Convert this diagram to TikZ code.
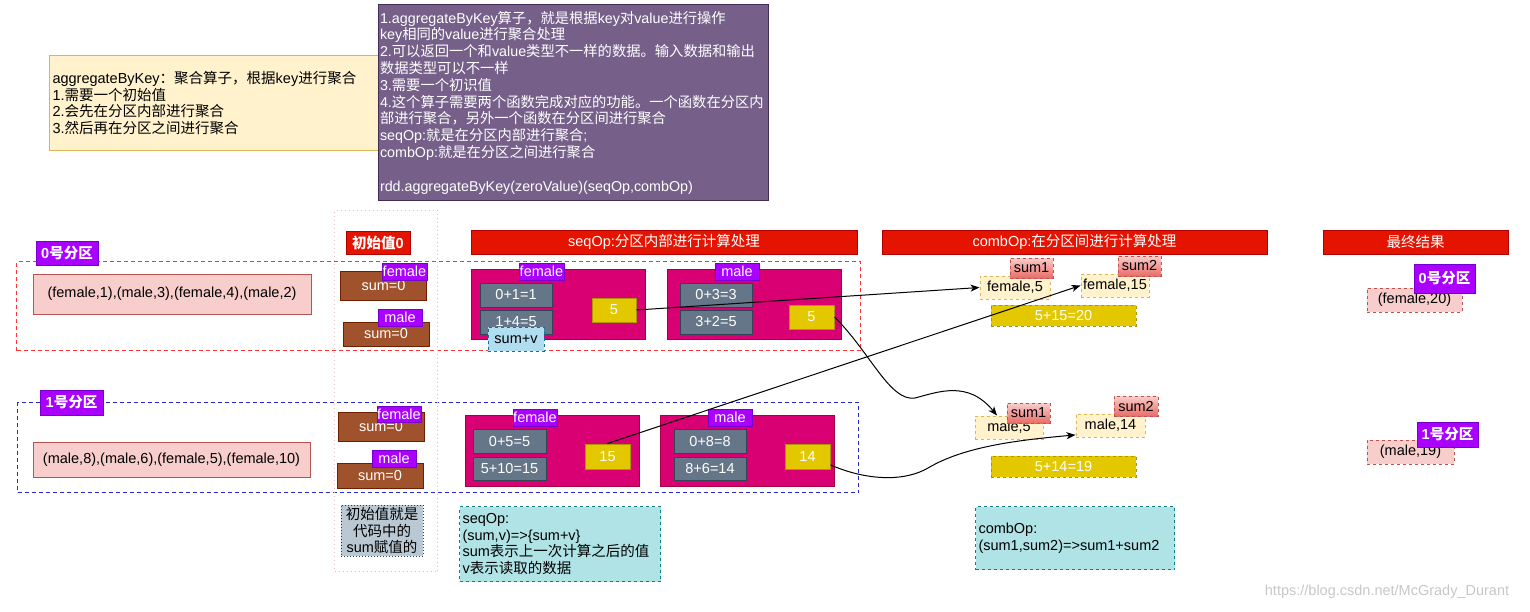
\documentclass[tikz,border=0pt]{standalone}
\usepackage{fontspec}
\setmainfont{Liberation Sans}
\newfontfamily\cjkfont{Noto Sans CJK SC}
% CJK runs switch to the CJK font automatically
\XeTeXinterchartokenstate=1
\newXeTeXintercharclass\cjkclass
\makeatletter
\count@="3000
\loop\ifnum\count@<"3040 \XeTeXcharclass\count@=\cjkclass \advance\count@ by 1 \repeat
\count@="4E00
\loop\ifnum\count@<"A000 \XeTeXcharclass\count@=\cjkclass \advance\count@ by 1 \repeat
\count@="FF00
\loop\ifnum\count@<"FFF0 \XeTeXcharclass\count@=\cjkclass \advance\count@ by 1 \repeat
\makeatother
\XeTeXinterchartoks 0 \cjkclass = {\cjkfont}
\XeTeXinterchartoks 4095 \cjkclass = {\cjkfont}
\XeTeXinterchartoks \cjkclass 0 = {\rmfamily}
\XeTeXinterchartoks \cjkclass 4095 = {\rmfamily}
\XeTeXinterchartoks 4095 0 = {\rmfamily}
\usepackage{tikz}
\usetikzlibrary{arrows.meta}
\definecolor{yfill}{HTML}{FFF2CC}
\definecolor{ybord}{HTML}{D6B656}
\definecolor{pfill}{HTML}{76608A}
\definecolor{pbord}{HTML}{432D57}
\definecolor{hfill}{HTML}{E51400}
\definecolor{hbord}{HTML}{B20000}
\definecolor{tfill}{HTML}{AA00FF}
\definecolor{tbord}{HTML}{7700CC}
\definecolor{dfill}{HTML}{F8CECC}
\definecolor{dbord}{HTML}{B85450}
\definecolor{sumred}{HTML}{EA6B66}
\definecolor{ifill}{HTML}{A0522D}
\definecolor{ibord}{HTML}{6D1F00}
\definecolor{gfill}{HTML}{D80073}
\definecolor{gbord}{HTML}{A50040}
\definecolor{cfill}{HTML}{647687}
\definecolor{cbord}{HTML}{314354}
\definecolor{vfill}{HTML}{E3C800}
\definecolor{vbord}{HTML}{B09500}
\definecolor{nfill}{HTML}{B0E3E6}
\definecolor{nbord}{HTML}{0E8088}
\definecolor{lfill}{HTML}{B1DDF0}
\definecolor{lbord}{HTML}{10739E}
\definecolor{hintfill}{HTML}{BAC8D3}
\definecolor{hintbord}{HTML}{23445D}
\definecolor{partred}{HTML}{FF3333}
\definecolor{partblue}{HTML}{2A2AC8}
\definecolor{colline}{HTML}{D8C0C0}
\tikzset{
  txt/.style={font=\fontsize{14.5}{16.8}\selectfont},
  boldtxt/.style={font=\fontsize{14.5}{16.8}\selectfont\bfseries},
  notebox/.style={rectangle, draw=ybord, fill=yfill, line width=1pt,
    align=left, inner sep=3pt, txt},
  infobox/.style={rectangle, draw=pbord, fill=pfill, text=white, line width=1pt,
    align=left, inner xsep=1.5pt, inner ysep=3pt, font=\fontsize{14.3}{16.8}\selectfont},
  headbox/.style={rectangle, draw=hbord, fill=hfill, text=white, line width=1pt,
    inner sep=0pt, txt},
  tagbox/.style={rectangle, draw=tbord, fill=tfill, text=white, line width=1pt,
    inner sep=0pt, txt},
  partframe/.style={rectangle, line width=1pt, dash pattern=on 4pt off 3pt, inner sep=0pt},
  colframe/.style={rectangle, draw=colline, line width=1pt, dash pattern=on 1pt off 3pt,
    inner sep=0pt},
  datarec/.style={rectangle, draw=dbord, fill=dfill, line width=1pt, inner sep=0pt, txt},
  initbox/.style={rectangle, draw=ibord, fill=ifill, text=white, line width=1pt,
    inner sep=0pt, minimum width=86, txt},
  groupbox/.style={rectangle, draw=gbord, fill=gfill, line width=1pt, inner sep=0pt,
    minimum width=174},
  calcbox/.style={rectangle, draw=cbord, fill=cfill, text=white, line width=1pt,
    inner sep=0pt, minimum width=72, minimum height=24, txt},
  valbox/.style={rectangle, draw=vbord, fill=vfill, text=white, line width=1pt,
    inner sep=0pt, minimum width=45, minimum height=24, txt},
  addbox/.style={rectangle, draw=vbord, fill=vfill, text=white, line width=1pt, dashed,
    inner sep=0pt, minimum width=145, minimum height=21, txt},
  pairbox/.style={rectangle, draw=ybord, fill=yfill, line width=1pt, dashed,
    inner sep=0pt, minimum height=23, txt},
  sumtag/.style={rectangle, draw=dbord, top color=dfill, bottom color=sumred,
    line width=1pt, dashed, inner sep=0pt, minimum width=43, minimum height=20, txt},
  resultbox/.style={rectangle, draw=dbord, fill=dfill, line width=1pt, dashed,
    inner sep=0pt, minimum height=24, txt},
  tipbox/.style={rectangle, draw=lbord, fill=lfill, line width=1pt, dashed,
    inner sep=0pt, txt},
  hintbox/.style={rectangle, draw=hintbord, fill=hintfill, line width=1pt,
    dash pattern=on 1pt off 2pt, inner sep=0pt, align=center, txt},
  opnote/.style={rectangle, draw=nbord, fill=nfill, line width=1pt, dashed,
    align=left, inner sep=3pt, txt},
  wmtext/.style={text=black!22, inner sep=0pt, txt},
  link/.style={-{Stealth[length=9pt, width=7pt, inset=2.5pt]}, line width=1pt, black},
}
\begin{document}
\begin{tikzpicture}[x=1pt, y=-1pt]
\useasboundingbox (0,0) rectangle (1530,611);

% frames behind everything
\node[partframe, draw=partred, anchor=north west, minimum width=844, minimum height=89]
  (frame0) at (16,261) {};
\node[partframe, draw=partblue, anchor=north west, minimum width=841, minimum height=90]
  (frame1) at (17,402) {};
\node[colframe, anchor=north west, minimum width=103, minimum height=361]
  (initcol) at (334,210) {};

% explanations on top
\node[notebox, anchor=north west, minimum width=329, minimum height=95, text width=323]
  (summary) at (49,55)
  {aggregateByKey：聚合算子，根据key进行聚合\\1.需要一个初始值\\2.会先在分区内部进行聚合\\3.然后再在分区之间进行聚合};
\node[infobox, anchor=north west, minimum width=390, minimum height=196, text width=387]
  (info) at (378,4)
  {1.aggregateByKey算子，就是根据key对value进行操作\\key相同的value进行聚合处理\\2.可以返回一个和value类型不一样的数据。输入数据和输出\\数据类型可以不一样\\3.需要一个初识值\\4.这个算子需要两个函数完成对应的功能。一个函数在分区内\\部进行聚合，另外一个函数在分区间进行聚合\\seqOp:就是在分区内部进行聚合;\\combOp:就是在分区之间进行聚合\\[16.8pt]rdd.aggregateByKey(zeroValue)(seqOp,combOp)};

% column headers
\node[headbox, boldtxt, minimum width=64, minimum height=23] (hinit) at (378,242.5) {初始值0};
\node[headbox, minimum width=386, minimum height=24] (hseq) at (664,242) {seqOp:分区内部进行计算处理};
\node[headbox, minimum width=385, minimum height=24] (hcomb) at (1074.5,242) {combOp:在分区间进行计算处理};
\node[headbox, minimum width=185, minimum height=24] (hfinal) at (1415.5,242) {最终结果};

% partitions and their data
\node[tagbox, boldtxt, minimum width=62, minimum height=24] (p0tag) at (67,253) {0号分区};
\node[tagbox, boldtxt, minimum width=63, minimum height=25] (p1tag) at (71.5,402.5) {1号分区};
\node[datarec, minimum width=278, minimum height=40] (data0) at (172,294)
  {(female,1),(male,3),(female,4),(male,2)};
\node[datarec, minimum width=277, minimum height=35] (data1) at (171.5,459.5)
  {(male,8),(male,6),(female,5),(female,10)};

% initial values
\node[initbox, minimum height=29] (i0f) at (383.5,285.5) {sum=0};
\node[tagbox, minimum width=45, minimum height=17] (i0ftag) at (404.5,271.5) {female};
\node[initbox, minimum height=24] (i0m) at (386,334) {sum=0};
\node[tagbox, minimum width=44, minimum height=17] (i0mtag) at (400,317.5) {male};
\node[initbox, minimum height=29] (i1f) at (381,426.5) {sum=0};
\node[tagbox, minimum width=44, minimum height=16] (i1ftag) at (399,414) {female};
\node[initbox, minimum height=25] (i1m) at (380,475.5) {sum=0};
\node[tagbox, minimum width=44, minimum height=17] (i1mtag) at (394,458.5) {male};
\node[hintbox, minimum width=82, minimum height=51] (hint) at (382,530.5)
  {初始值就是\\代码中的\\sum赋值的};

% seqOp, partition 0
\node[groupbox, minimum height=70] (g0f) at (558,304) {};
\node[tagbox, minimum width=45, minimum height=17] (g0ftag) at (541.5,271.5) {female};
\node[calcbox] (c0f1) at (516,295) {0+1=1};
\node[calcbox] (c0f2) at (516,322) {1+4=5};
\node[tipbox, minimum width=56, minimum height=24] (tip) at (516,339) {sum+v};
\node[valbox, minimum width=44] (v0f) at (614,310) {5};
\node[groupbox, minimum height=70] (g0m) at (754,304) {};
\node[tagbox, minimum width=44, minimum height=17] (g0mtag) at (737,271.5) {male};
\node[calcbox] (c0m1) at (716,295) {0+3=3};
\node[calcbox] (c0m2) at (716,322) {3+2=5};
\node[valbox] (v0m) at (811.5,317) {5};

% seqOp, partition 1
\node[groupbox, minimum height=71] (g1f) at (552,450.5) {};
\node[tagbox, minimum width=44, minimum height=17] (g1ftag) at (535,417.5) {female};
\node[calcbox, minimum width=73] (c1f1) at (509.5,441) {0+5=5};
\node[calcbox, minimum width=73, minimum height=23] (c1f2) at (509.5,468.5) {5+10=15};
\node[valbox, minimum height=25] (v1f) at (607.5,456.5) {15};
\node[groupbox, minimum height=71] (g1m) at (747,450.5) {};
\node[tagbox, minimum width=44, minimum height=17] (g1mtag) at (730,417.5) {male};
\node[calcbox] (c1m1) at (710,441) {0+8=8};
\node[calcbox, minimum height=23] (c1m2) at (710,468.5) {8+6=14};
\node[valbox, minimum height=25] (v1m) at (807.5,456.5) {14};
\node[opnote, anchor=north west, minimum width=201, minimum height=75, text width=195]
  (seqnote) at (459,506)
  {seqOp:\\(sum,v)=>\{sum+v\}\\sum表示上一次计算之后的值\\v表示读取的数据};

% combOp
\node[pairbox, minimum width=70] (f5) at (1015,287.5) {female,5};
\node[sumtag] (f5tag) at (1031.5,268) {sum1};
\node[pairbox, minimum width=68] (f15) at (1115,285.5) {female,15};
\node[sumtag] (f15tag) at (1139.5,266) {sum2};
\node[addbox] (fadd) at (1063.5,315.5) {5+15=20};
\node[pairbox, minimum width=68] (m5) at (1009,427.5) {male,5};
\node[sumtag] (m5tag) at (1028.5,413) {sum1};
\node[pairbox, minimum width=69] (m14) at (1110.5,425.5) {male,14};
\node[sumtag, minimum width=44] (m14tag) at (1136,406) {sum2};
\node[addbox] (madd) at (1063.5,466.5) {5+14=19};
\node[opnote, anchor=north west, minimum width=199, minimum height=63, text width=193]
  (combnote) at (975,506)
  {combOp:\\(sum1,sum2)=>sum1+sum2};

% final results
\node[resultbox, minimum width=95] (r0) at (1414.5,300) {(female,20)};
\node[tagbox, boldtxt, minimum width=61, minimum height=29] (r0tag) at (1444.5,278.5) {0号分区};
\node[resultbox, minimum width=87] (r1) at (1410.5,452) {(male,19)};
\node[tagbox, boldtxt, minimum width=61, minimum height=25] (r1tag) at (1447.5,434.5) {1号分区};

\node[wmtext] (wm) at (1387,592) {https://blog.csdn.net/McGrady\_Durant};

% links
\draw[link] (v0f.east) -- (f5.west);
\draw[link] (v1f.north) -- (f15.west);
\draw[link] (v0m.east) .. controls (870,352) and (890,402) .. (915,398)
  .. controls (938,392) and (968,380) .. (m5.135);
\draw[link] (v1m.-20) .. controls (860,478) and (900,484) .. (928,468)
  .. controls (965,446) and (1020,440) .. (m14.195);

\end{tikzpicture}
\end{document}
